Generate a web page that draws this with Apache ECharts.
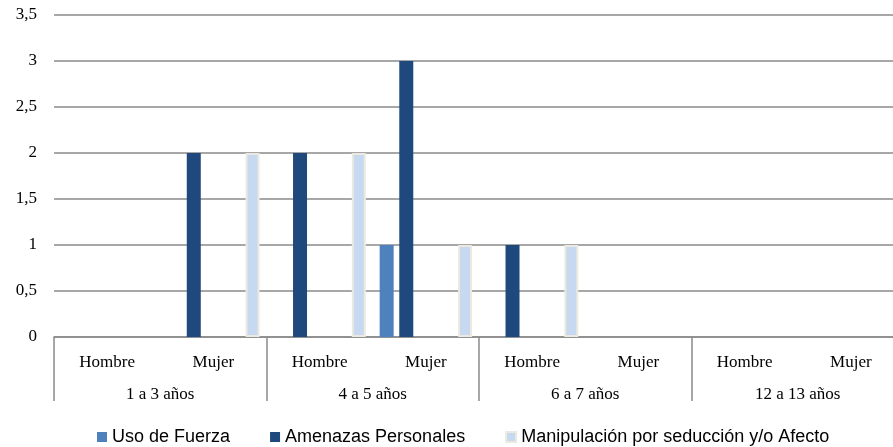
<!DOCTYPE html>
<html>
<head>
<meta charset="utf-8">
<script src="https://cdn.jsdelivr.net/npm/echarts@6/dist/echarts.min.js"></script>
<style>html,body{margin:0;padding:0;background:#fff;overflow:hidden;width:893px;height:447px;}#c{width:904px;height:447px;}</style>
</head>
<body>
<div id="c"></div>
<script>
const sexCategories = ['Hombre','Mujer','Hombre','Mujer','Hombre','Mujer','Hombre','Mujer'];
const ageGroups = ['1 a 3 años','4 a 5 años','6 a 7 años','12 a 13 años'];
const usoFuerza = [0,0,0,1,0,0,0,0];
const amenazas = [0,2,2,3,1,0,0,0];
const emptySlot = [null,null,null,null,null,null,null,null];
const manipulacion = [0,2,2,1,1,0,0,0];
const yTicks = {min:0, max:3.5, interval:0.5};

const hideZero = arr => arr.map(v => (v === 0 ? null : v));
const chart = echarts.init(document.getElementById('c'));
const serif = 'Liberation Serif';
const grey = '#8a8a8a';
const barW = 14;
chart.setOption({
  animation:false,
  grid:{left:54,right:0,top:15,bottom:110,containLabel:false},
  legend:{
    data:['Uso de Fuerza','Amenazas Personales','Manipulación por seducción y/o Afecto'],
    left:92, top:423, itemWidth:10, itemHeight:10, itemGap:40, icon:'rect',
    textStyle:{fontFamily:'Liberation Sans',fontSize:18,color:'#000',padding:[3,0,0,0]}
  },
  xAxis:[
    {type:'category',data:sexCategories,position:'bottom',
     axisLine:{show:true,lineStyle:{color:grey,width:1.5}},
     axisTick:{show:false},
     axisLabel:{interval:0,margin:17,fontFamily:serif,fontSize:17,color:'#000'}},
    {type:'category',data:ageGroups,position:'bottom',
     axisLine:{show:false},
     axisTick:{show:true,interval:0,length:64,lineStyle:{color:grey,width:1.5}},
     axisLabel:{interval:0,margin:49,fontFamily:serif,fontSize:17,color:'#000'}}
  ],
  yAxis:{type:'value',min:yTicks.min,max:yTicks.max,interval:yTicks.interval,
    axisLine:{show:false},axisTick:{show:false},
    splitLine:{lineStyle:{color:grey,width:1.5}},
    axisLabel:{margin:17,fontFamily:serif,fontSize:17,color:'#000',
      formatter:v=>String(v).replace('.',',')}},
  series:[
    {name:'Uso de Fuerza',type:'bar',xAxisIndex:0,data:hideZero(usoFuerza),barWidth:barW,barGap:'40%',
     itemStyle:{color:'#4F81BD'}},
    {name:'Amenazas Personales',type:'bar',xAxisIndex:0,data:hideZero(amenazas),barWidth:barW,barGap:'40%',
     itemStyle:{color:'#1F497D'}},
    {name:'s3',type:'bar',xAxisIndex:0,data:emptySlot,barWidth:barW,barGap:'40%'},
    {name:'s4',type:'bar',xAxisIndex:0,data:emptySlot,barWidth:barW,barGap:'40%'},
    {name:'Manipulación por seducción y/o Afecto',type:'bar',xAxisIndex:0,data:hideZero(manipulacion),barWidth:barW,barGap:'40%',
     itemStyle:{color:'#C6D9F1',borderColor:'#ECEAE0',borderWidth:2}}
  ]
});
</script>
</body>
</html>
